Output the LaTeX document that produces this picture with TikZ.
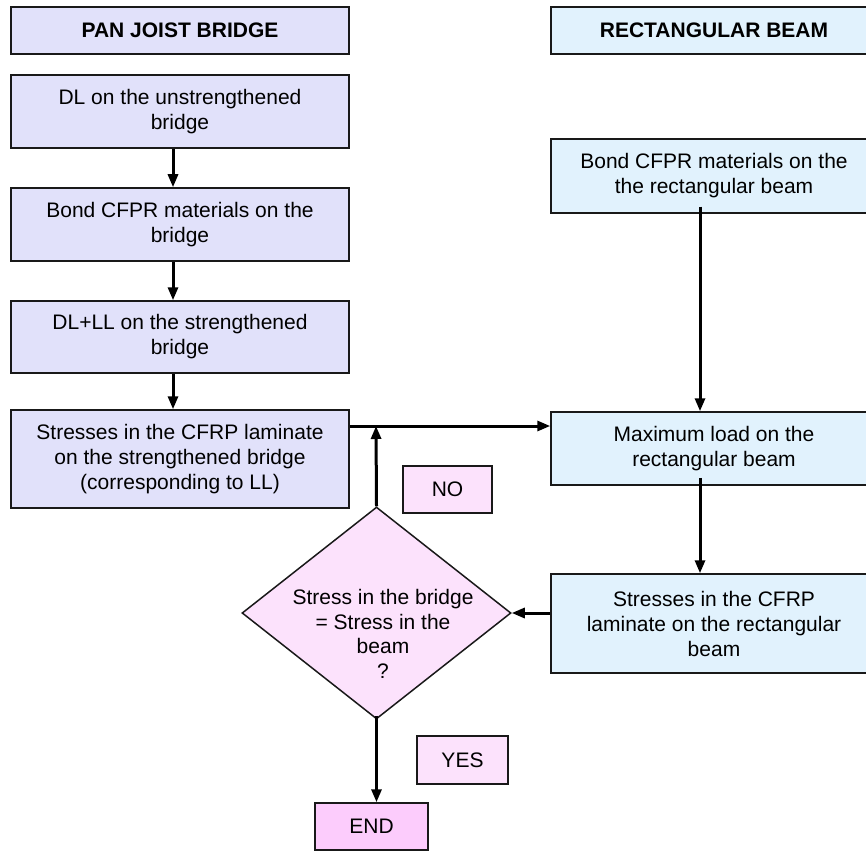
\documentclass[tikz,border=0pt]{standalone}
\usepackage{fontspec}
\setmainfont{Liberation Sans}
\usetikzlibrary{arrows.meta,shapes.geometric}
\definecolor{lav}{RGB}{225,225,250}
\definecolor{lblue}{RGB}{225,242,253}
\definecolor{lpink}{RGB}{252,226,252}
\definecolor{dpink}{RGB}{252,204,252}
\definecolor{edge}{RGB}{25,25,25}
\tikzset{
  box/.style={draw=edge, line width=1.5pt, inner sep=0pt, align=center,
    font=\fontsize{21}{25}\selectfont},
  lbox/.style={box, fill=lav, minimum width=338pt},
  rbox/.style={box, fill=lblue, minimum width=326pt},
  pbox/.style={box, fill=lpink},
  ttl/.style={font=\fontsize{21}{25}\selectfont\bfseries},
  arr/.style={line width=3pt, -{Triangle[length=13pt,width=10pt]}},
}
\begin{document}
\begin{tikzpicture}[x=1pt,y=-1pt]
\useasboundingbox (0,0) rectangle (866,850);
% left column
\node[lbox, minimum height=47pt] (t1) at (180,30.5) {\textbf{PAN JOIST BRIDGE}};
\node[lbox, minimum height=73pt] (b1) at (180,111.5) {DL on the unstrengthened\\bridge};
\node[lbox, minimum height=73pt] (b2) at (180,224.5) {Bond CFPR materials on the\\bridge};
\node[lbox, minimum height=72pt] (b3) at (180,337) {DL+LL on the strengthened\\bridge};
\node[lbox, minimum height=98pt] (b4) at (180,459) {Stresses in the CFRP laminate\\on the strengthened bridge\\(corresponding to LL)};
% right column
\node[rbox, minimum height=47pt] (t2) at (714,30.5) {\textbf{RECTANGULAR BEAM}};
\node[rbox, minimum height=74pt] (r1) at (714,176) {Bond CFPR materials on the\\the rectangular beam};
\node[rbox, minimum height=73pt] (r2) at (714,448.5) {Maximum load on the\\rectangular beam};
\node[rbox, minimum height=99pt] (r3) at (714,623.5) {Stresses in the CFRP\\laminate on the rectangular\\beam};
% decision
\node[diamond, draw=edge, line width=1.5pt, fill=lpink, inner sep=0pt,
  minimum width=269pt, minimum height=212pt] (d) at (376.5,613) {};
\node[align=center, inner sep=0pt, font=\fontsize{21}{24.5}\selectfont] (dt) at (383,634)
  {Stress in the bridge\\= Stress in the\\beam\\?};
\node[pbox, minimum width=89pt, minimum height=47pt] (no) at (447.5,489.5) {NO};
\node[pbox, minimum width=91pt, minimum height=48pt] (yes) at (462.5,760) {YES};
\node[box, fill=dpink, minimum width=113pt, minimum height=47pt] (end) at (371.5,826.5) {END};
% helper coordinates
\coordinate (lx) at (173,0);
\coordinate (rx) at (700,0);
\coordinate (jn) at (376,426);
% connectors
\draw[arr] (b1.south -| lx) -- (b2.north -| lx);
\draw[arr] (b2.south -| lx) -- (b3.north -| lx);
\draw[arr] (b3.south -| lx) -- (b4.north -| lx);
\draw[arr] ([yshift=7pt]r1.south -| rx) -- (r2.north -| rx);
\draw[arr] ([yshift=8pt]r2.south -| rx) -- (r3.north -| rx);
\draw[arr] (b4.east |- jn) -- (r2.west |- jn);
\draw[arr] (d.north) -- (jn);
\draw[arr] (d.east -| r3.west) -- (d.east);
\draw[arr] ([yshift=4pt]d.south) -- (end.north -| d.south);
\end{tikzpicture}
\end{document}
